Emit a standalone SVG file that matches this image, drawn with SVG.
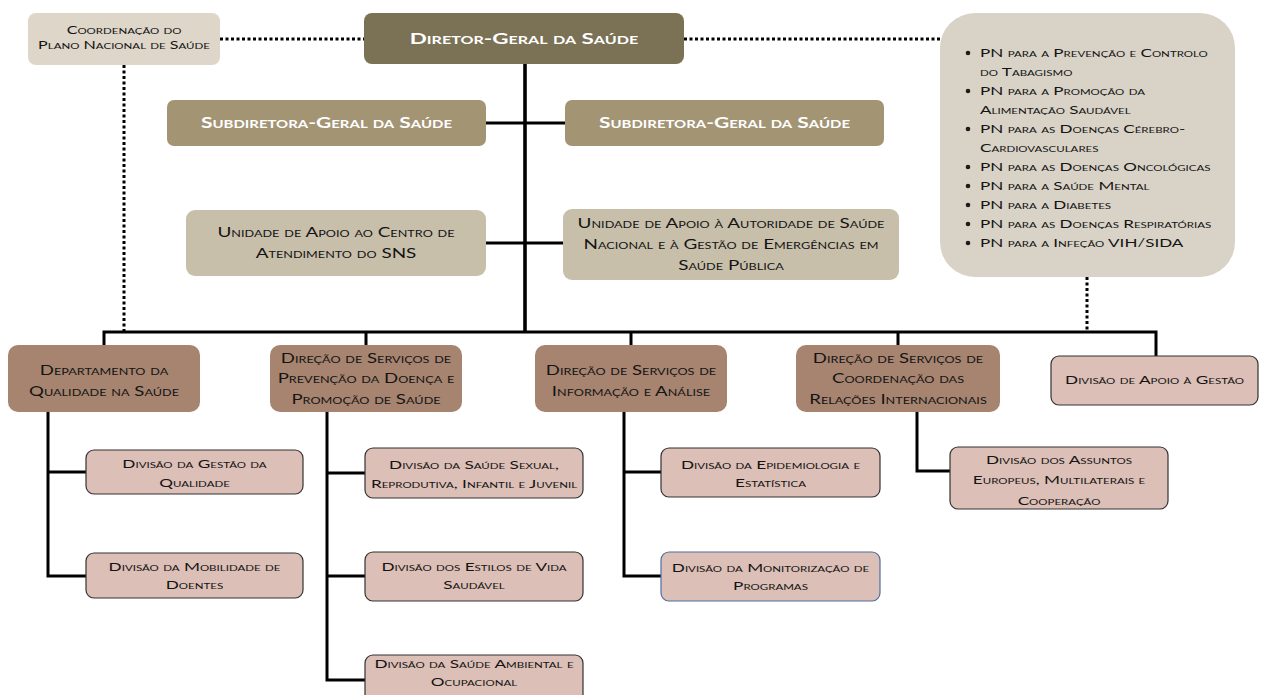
<svg xmlns="http://www.w3.org/2000/svg" width="1261" height="695" viewBox="0 0 1261 695">
<style>
.t{font-family:Lato,"Open Sans","Liberation Sans",sans-serif;font-variant:small-caps;fill:#141414;text-anchor:middle}
.s{text-anchor:start}
.b{font-weight:bold;fill:#ffffff;font-size:16px}
.b2{font-size:15px}
.fc{font-size:11.5px}
.fu{font-size:13.5px}
.fm{font-size:13.3px}
.fd{font-size:12.3px}
.fl{font-size:12.2px}
.ln{stroke:#000;stroke-width:3;fill:none;stroke-linejoin:miter}
.dot{stroke:#000;stroke-width:3;fill:none;stroke-dasharray:3 2.5}
.dv{fill:#dcbfb6;stroke:#333;stroke-width:1.2}
.br{fill:#a68470}
</style>
<g id="connectors">
<path class="dot" d="M220 39H364M684 39H940M124 65V331M1087 277V331"/>
<path class="ln" style="stroke-width:3.6" d="M525 64V332"/>
<path class="ln" d="M486 123H565M486 243H563"/>
<path class="ln" d="M104 345V332H1156V356M366 332V345M631 332V345M898 332V345"/>
<path class="ln" d="M48 412V576H86M48 472H86"/>
<path class="ln" d="M327 412V680H365M327 473H365M327 576H365"/>
<path class="ln" d="M624 412V576H661M624 472H661"/>
<path class="ln" d="M917 412V471H950"/>
</g>
<g id="coordenacao">
<rect x="28" y="13" width="192" height="52" rx="8" fill="#ddd6c9"/>
<text class="t fc" transform="translate(124 0) scale(1.4 1)"><tspan x="0" y="34">Coordenação do</tspan><tspan x="0" y="49">Plano Nacional de Saúde</tspan></text>
</g>
<g id="diretor">
<rect x="364" y="13" width="320" height="51" rx="8" fill="#7b7155"/>
<text class="t b" transform="translate(524 0) scale(1.4 1)" x="0" y="44">Diretor-Geral da Saúde</text>
</g>
<g id="subdiretora1">
<rect x="167" y="100" width="319" height="46" rx="7" fill="#a39474"/>
<text class="t b b2" transform="translate(326.5 0) scale(1.4 1)" x="0" y="128.5">Subdiretora-Geral da Saúde</text>
</g>
<g id="subdiretora2">
<rect x="565" y="100" width="319" height="46" rx="7" fill="#a39474"/>
<text class="t b b2" transform="translate(724.5 0) scale(1.4 1)" x="0" y="128.5">Subdiretora-Geral da Saúde</text>
</g>
<g id="unidade-sns">
<rect x="186" y="210" width="300" height="66" rx="9" fill="#c8bfab"/>
<text class="t fu" transform="translate(336 0) scale(1.4 1)"><tspan x="0" y="237">Unidade de Apoio ao Centro de</tspan><tspan x="0" y="258">Atendimento do SNS</tspan></text>
</g>
<g id="unidade-asn">
<rect x="563" y="209" width="336" height="71" rx="9" fill="#c8bfab"/>
<text class="t fu" transform="translate(731 0) scale(1.4 1)"><tspan x="0" y="228">Unidade de Apoio à Autoridade de Saúde</tspan><tspan x="0" y="249">Nacional e à Gestão de Emergências em</tspan><tspan x="0" y="270">Saúde Pública</tspan></text>
</g>
<g id="programas">
<rect x="940" y="13" width="295" height="264" rx="35" fill="#d9d3c7"/>
<g fill="#1c1c1c">
<circle cx="968" cy="53" r="2.3"/><circle cx="968" cy="91" r="2.3"/><circle cx="968" cy="129" r="2.3"/><circle cx="968" cy="167" r="2.3"/><circle cx="968" cy="186" r="2.3"/><circle cx="968" cy="205" r="2.3"/><circle cx="968" cy="224" r="2.3"/><circle cx="968" cy="243" r="2.3"/>
</g>
<text class="t s fl" transform="translate(980 0) scale(1.4 1)"><tspan x="0" y="57">PN para a Prevenção e Controlo</tspan><tspan x="0" y="76">do Tabagismo</tspan><tspan x="0" y="95">PN para a Promoção da</tspan><tspan x="0" y="114">Alimentação Saudável</tspan><tspan x="0" y="133">PN para as Doenças Cérebro-</tspan><tspan x="0" y="152">Cardiovasculares</tspan><tspan x="0" y="171">PN para as Doenças Oncológicas</tspan><tspan x="0" y="190">PN para a Saúde Mental</tspan><tspan x="0" y="209">PN para a Diabetes</tspan><tspan x="0" y="228">PN para as Doenças Respiratórias</tspan><tspan x="0" y="247">PN para a Infeção VIH/SIDA</tspan></text>
</g>
<g id="dqs">
<rect class="br" x="8" y="345" width="192" height="67" rx="10"/>
<text class="t fm" transform="translate(104 0) scale(1.4 1)"><tspan x="0" y="375">Departamento da</tspan><tspan x="0" y="396">Qualidade na Saúde</tspan></text>
</g>
<g id="dspdps">
<rect class="br" x="270" y="345" width="192" height="67" rx="10"/>
<text class="t fm" transform="translate(366 0) scale(1.4 1)"><tspan x="0" y="363">Direção de Serviços de</tspan><tspan x="0" y="383.5">Prevenção da Doença e</tspan><tspan x="0" y="404">Promoção de Saúde</tspan></text>
</g>
<g id="dsia">
<rect class="br" x="535" y="345" width="192" height="67" rx="10"/>
<text class="t fm" transform="translate(631 0) scale(1.4 1)"><tspan x="0" y="375">Direção de Serviços de</tspan><tspan x="0" y="396">Informação e Análise</tspan></text>
</g>
<g id="dscri">
<rect class="br" x="796" y="345" width="204" height="67" rx="10"/>
<text class="t fm" transform="translate(898 0) scale(1.4 1)"><tspan x="0" y="363">Direção de Serviços de</tspan><tspan x="0" y="383.5">Coordenação das</tspan><tspan x="0" y="404">Relações Internacionais</tspan></text>
</g>
<g id="dag">
<rect class="dv" x="1051" y="356" width="207" height="49" rx="8"/>
<text class="t fd" transform="translate(1154.5 0) scale(1.4 1)" x="0" y="384.5">Divisão de Apoio à Gestão</text>
</g>
<g id="dgq">
<rect class="dv" x="86" y="450" width="217" height="44" rx="8"/>
<text class="t fd" transform="translate(194.5 0) scale(1.4 1)"><tspan x="0" y="468.5">Divisão da Gestão da</tspan><tspan x="0" y="487">Qualidade</tspan></text>
</g>
<g id="dmd">
<rect class="dv" x="86" y="553" width="217" height="45" rx="8"/>
<text class="t fd" transform="translate(194.5 0) scale(1.4 1)"><tspan x="0" y="571">Divisão da Mobilidade de</tspan><tspan x="0" y="589.5">Doentes</tspan></text>
</g>
<g id="dssrij">
<rect class="dv" x="365" y="448" width="218" height="50" rx="8"/>
<text class="t fd" transform="translate(474 0) scale(1.4 1)"><tspan x="0" y="469.5">Divisão da Saúde Sexual,</tspan><tspan x="0" y="488.5">Reprodutiva, Infantil e Juvenil</tspan></text>
</g>
<g id="devs">
<rect class="dv" x="365" y="552" width="218" height="49" rx="8"/>
<text class="t fd" transform="translate(474 0) scale(1.4 1)"><tspan x="0" y="571">Divisão dos Estilos de Vida</tspan><tspan x="0" y="589.5">Saudável</tspan></text>
</g>
<g id="dsao">
<rect class="dv" x="365" y="655" width="218" height="55" rx="8"/>
<text class="t fd" transform="translate(474 0) scale(1.4 1)"><tspan x="0" y="668">Divisão da Saúde Ambiental e</tspan><tspan x="0" y="686.5">Ocupacional</tspan></text>
</g>
<g id="dee">
<rect class="dv" x="661" y="448" width="219" height="49" rx="8"/>
<text class="t fd" transform="translate(770.5 0) scale(1.4 1)"><tspan x="0" y="469">Divisão da Epidemiologia e</tspan><tspan x="0" y="487.5">Estatística</tspan></text>
</g>
<g id="dmp">
<rect class="dv" x="661" y="552" width="219" height="49" rx="8" style="stroke:#4f6f9f"/>
<text class="t fd" transform="translate(770.5 0) scale(1.4 1)"><tspan x="0" y="572">Divisão da Monitorização de</tspan><tspan x="0" y="590.5">Programas</tspan></text>
</g>
<g id="daemc">
<rect class="dv" x="950" y="447" width="218" height="62" rx="8"/>
<text class="t fd" transform="translate(1059 0) scale(1.4 1)"><tspan x="0" y="464">Divisão dos Assuntos</tspan><tspan x="0" y="484.5">Europeus, Multilaterais e</tspan><tspan x="0" y="505">Cooperação</tspan></text>
</g>
</svg>
